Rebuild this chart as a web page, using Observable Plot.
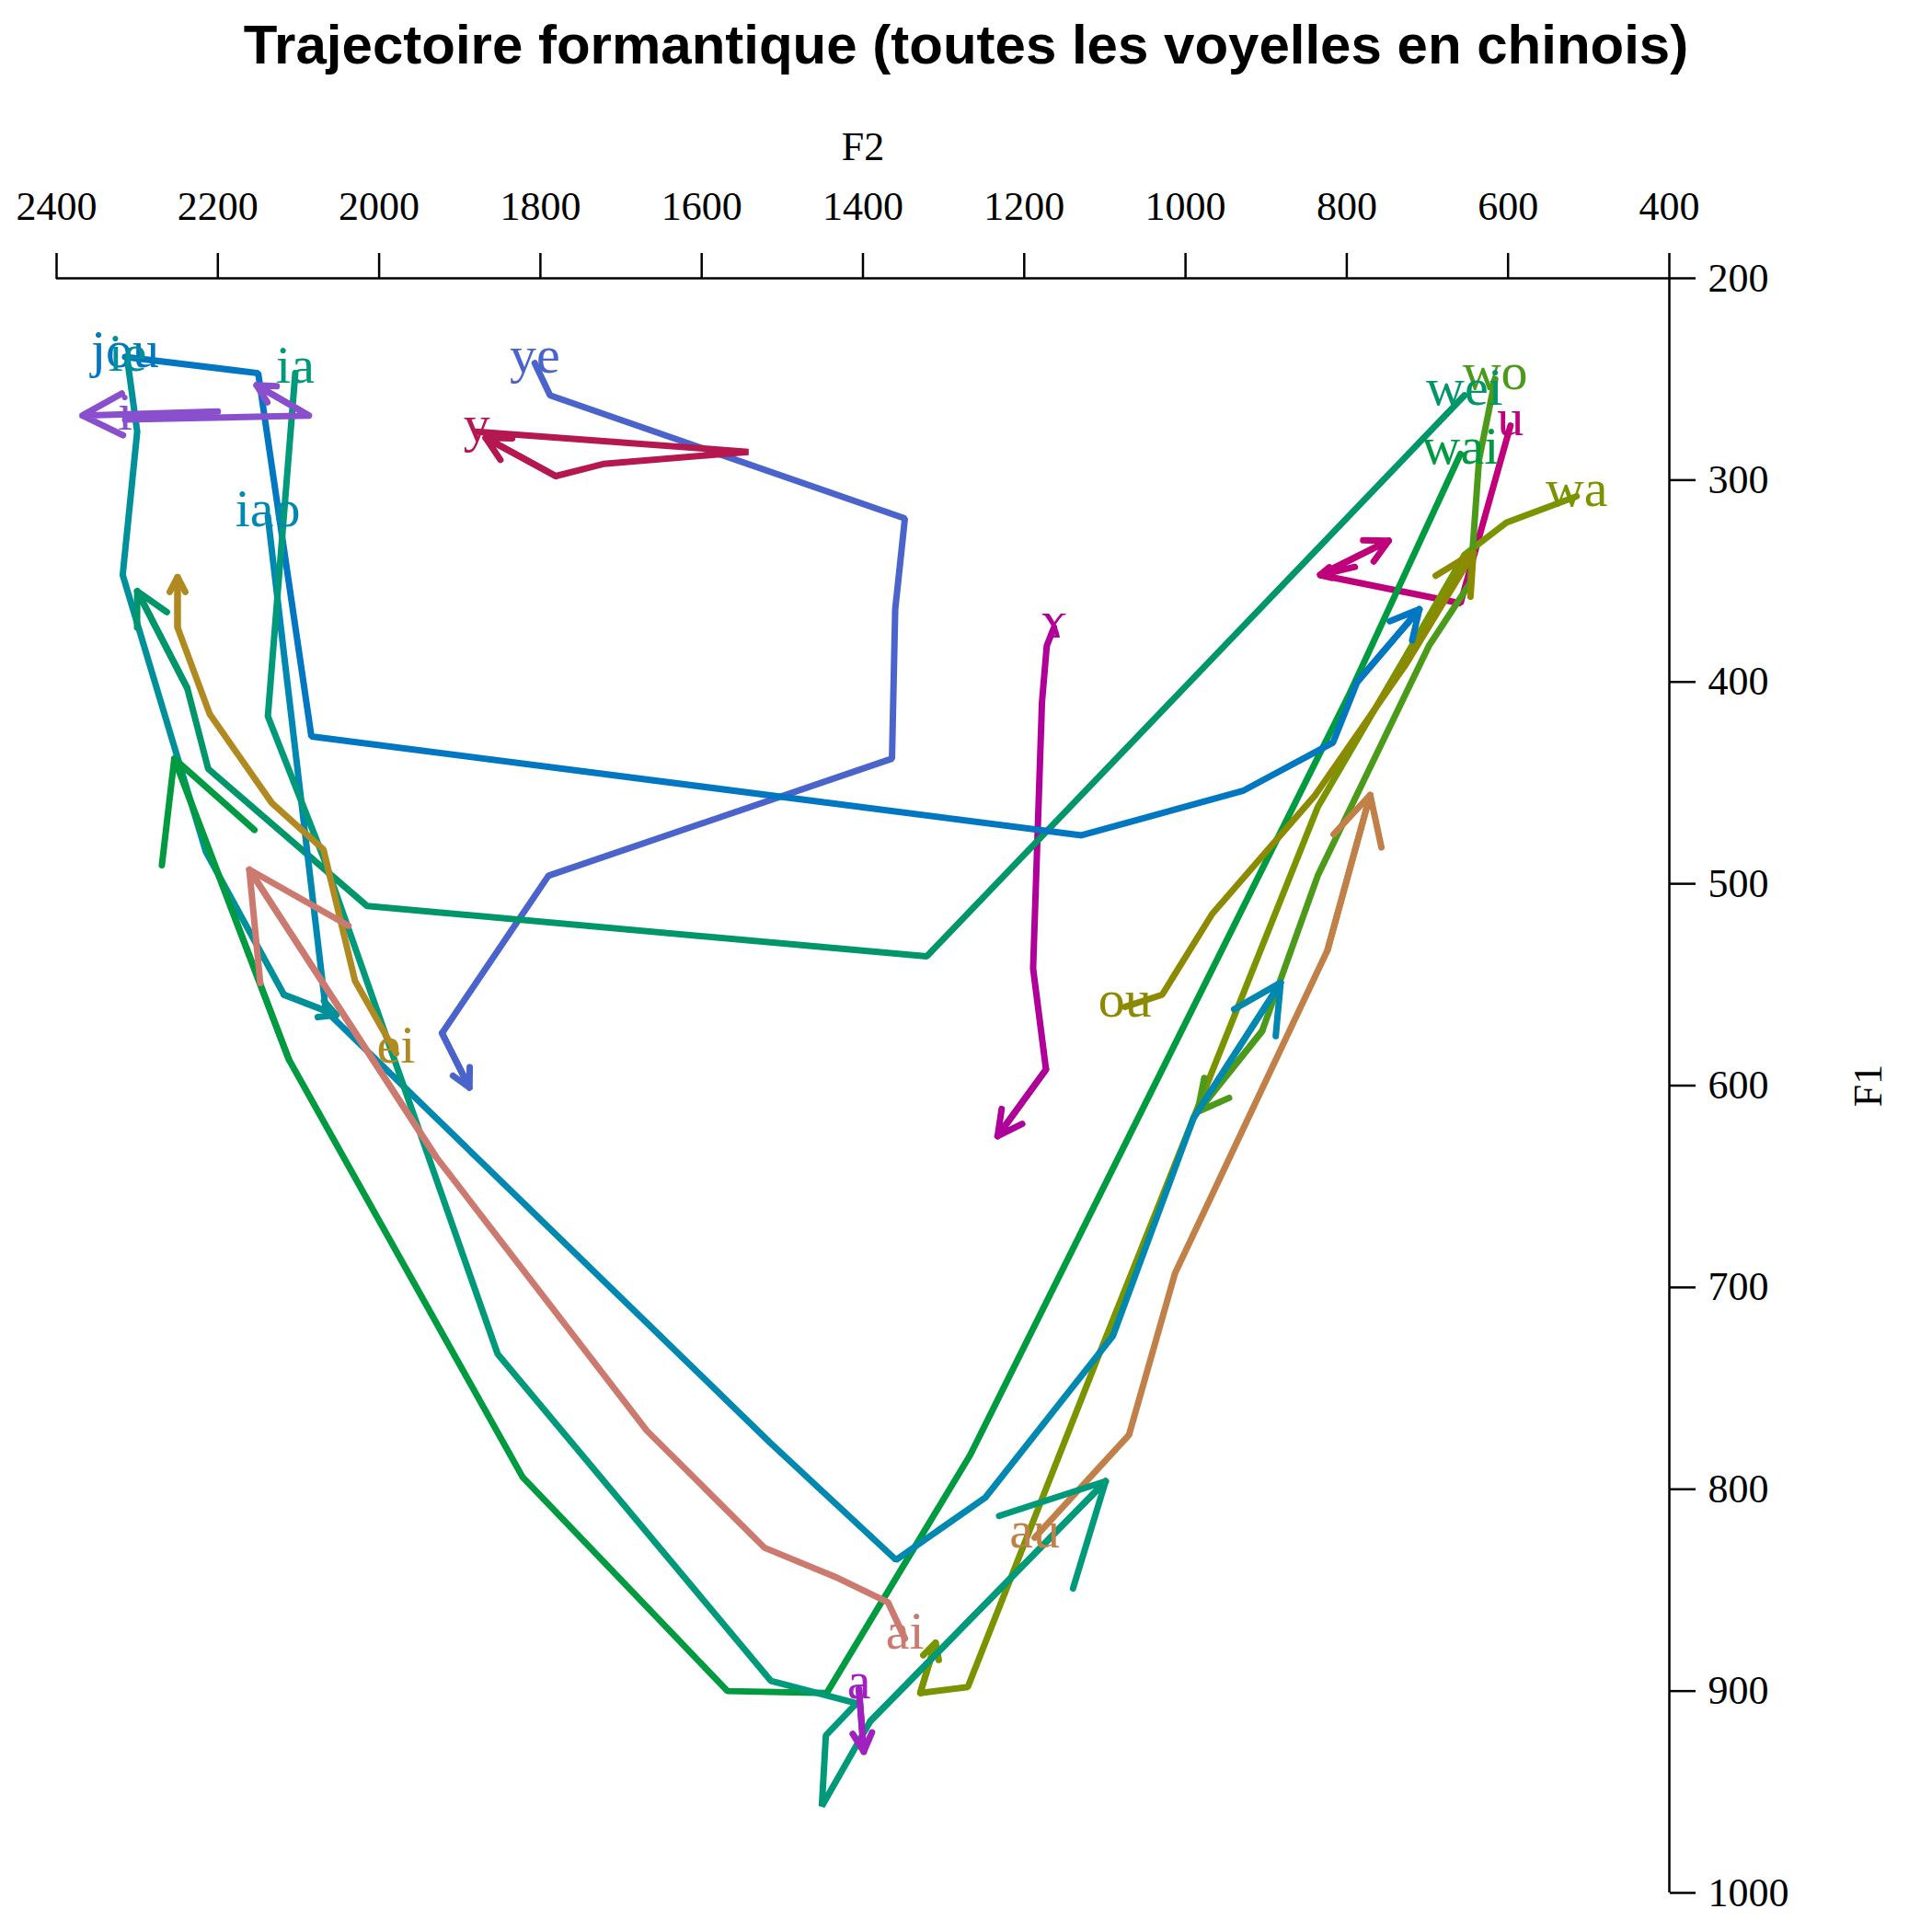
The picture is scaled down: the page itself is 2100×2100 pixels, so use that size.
<!DOCTYPE html>
<html>
<head>
<meta charset="utf-8">
<script src="https://cdn.jsdelivr.net/npm/d3@7"></script>
<script src="https://cdn.jsdelivr.net/npm/@observablehq/plot@0.6"></script>
<style>
  body { margin: 0; background: #fff; }
  #wrap { position: relative; width: 2100px; height: 2100px; }
  #title { position: absolute; top: 14px; left: 0; width: 2100px; text-align: center;
           font: bold 60px "Liberation Sans", Arial, sans-serif; }
  #plot { position: absolute; top: 0; left: 0; }
</style>
</head>
<body>
<div id="wrap">
  <div id="plot"></div>
  <div id="title">Trajectoire formantique (toutes les voyelles en chinois)</div>
</div>
<script>
// vowels, their colours, and F2 / F1 trajectories (Hz)
const vowels = ["ye", "y", "ɤ", "u", "wa", "wo", "wei", "wai", "jou", "ie", "iao", "ia", "i", "ei", "ai", "au", "ou", "a"];
const colors = ["#4a64cc", "#b5174f", "#b0009a", "#c0007a", "#7a9400", "#4c9a1a", "#00966a", "#009a40",
  "#0077c0", "#00909a", "#0088b0", "#009a7a", "#8a4fcc", "#b08a20", "#cc7a70", "#c08048", "#8c8a00", "#a020c0"];
const f2Tracks = [
  [1807, 1788, 1348, 1360, 1364, 1790, 1922, 1888],
  [1879, 1542, 1722, 1781, 1868],
  [1163, 1172, 1178, 1189, 1173, 1233],
  [597, 659, 833, 748],
  [515, 602, 654, 728, 836, 990, 1113, 1270, 1329, 1310],
  [616, 636, 647, 698, 836, 905, 985],
  [654, 1321, 2015, 2212, 2238, 2300],
  [659, 798, 1267, 1445, 1568, 1822, 2112, 2254],
  [2315, 2150, 2084, 1129, 929, 817, 787, 710],
  [2312, 2300, 2318, 2215, 2118, 2053],
  [2138, 2066, 1515, 1359, 1248, 1090, 990, 882],
  [2104, 2138, 2069, 1853, 1514, 1408, 1446, 1451, 1391, 1099],
  [2315, 2087, 2152],
  [1979, 2030, 2069, 2133, 2210, 2250, 2250],
  [1348, 1369, 1431, 1522, 1668, 1930, 2161],
  [1187, 1070, 1013, 824, 771],
  [1075, 1029, 967, 839, 728, 643],
  [1405, 1399]
];
const f1Tracks = [
  [242, 258, 319, 364, 438, 496, 574, 601],
  [276, 286, 292, 298, 279],
  [373, 382, 410, 542, 592, 625],
  [273, 361, 347, 330],
  [308, 321, 337, 388, 462, 616, 739, 898, 901, 876],
  [250, 290, 351, 382, 496, 573, 613],
  [258, 536, 511, 443, 403, 355],
  [287, 407, 783, 901, 900, 794, 587, 438],
  [239, 247, 427, 476, 454, 430, 400, 364],
  [241, 276, 347, 484, 555, 565],
  [318, 563, 777, 835, 804, 724, 616, 549],
  [247, 417, 487, 733, 895, 906, 922, 957, 915, 796],
  [270, 268, 253],
  [584, 548, 483, 460, 416, 373, 348],
  [874, 856, 844, 829, 771, 635, 493],
  [824, 773, 693, 533, 456],
  [561, 555, 515, 456, 392, 336],
  [899, 930]
];
// extra arrowheads drawn mid-trajectory
const extraArrows = [
  { v: "u", f2a: 790, f1a: 343, f2b: 833, f1b: 347 },
  { v: "i", f2a: 2200, f1a: 266, f2b: 2368, f1b: 268 }
];
const xTicks = [2400, 2200, 2000, 1800, 1600, 1400, 1200, 1000, 800, 600, 400];
const yTicks = [200, 300, 400, 500, 600, 700, 800, 900, 1000];

const points = vowels.flatMap((v, i) => f2Tracks[i].map((f2, j) => ({ v, f2, f1: f1Tracks[i][j] })));
const starts = vowels.map((v, i) => ({ v, f2: f2Tracks[i][0], f1: f1Tracks[i][0] }));
const ends = vowels.map((v, i) => {
  const n = f2Tracks[i].length;
  return { v, x1: f2Tracks[i][n - 2], y1: f1Tracks[i][n - 2], x2: f2Tracks[i][n - 1], y2: f1Tracks[i][n - 1] };
}).concat(extraArrows.map(d => ({ v: d.v, x1: d.f2a, y1: d.f1a, x2: d.f2b, y2: d.f1b })));

const font = '"Liberation Serif", "DejaVu Serif", serif';
const chart = Plot.plot({
  width: 2100,
  height: 2100,
  marginTop: 302,
  marginLeft: 61,
  marginRight: 286,
  marginBottom: 43,
  style: { fontFamily: font, fontSize: "44px", background: "white" },
  color: { domain: vowels, range: colors },
  x: { domain: [2400, 400] },
  y: { domain: [200, 1000], reverse: true },
  marks: [
    Plot.ruleY([200], { strokeWidth: 2.5 }),
    Plot.ruleX([400], { strokeWidth: 2.5 }),
    Plot.axisX({ anchor: "top", ticks: xTicks, tickFormat: d => String(d), tickSize: 28, tickPadding: 36,
      strokeWidth: 2.5, fontSize: 44, label: "F2", labelAnchor: "center", labelArrow: "none", labelOffset: 160 }),
    Plot.axisY({ anchor: "right", ticks: yTicks, tickFormat: d => String(d), tickSize: 28, tickPadding: 14,
      strokeWidth: 2.5, fontSize: 44, label: "F1", labelAnchor: "center", labelArrow: "none", labelOffset: 230 }),
    Plot.line(points, { x: "f2", y: "f1", z: "v", stroke: "v", strokeWidth: 7, strokeLinejoin: "miter" }),
    Plot.arrow(ends, { x1: "x1", y1: "y1", x2: "x2", y2: "y2", stroke: "v", strokeWidth: 7,
      headLength: 36, headAngle: 55, strokeLinecap: "round" }),
    Plot.text(starts, { x: "f2", y: "f1", text: "v", fill: "v", fontSize: 58, fontFamily: font, dy: -8 })
  ]
});
document.getElementById("plot").append(chart);
</script>
</body>
</html>
